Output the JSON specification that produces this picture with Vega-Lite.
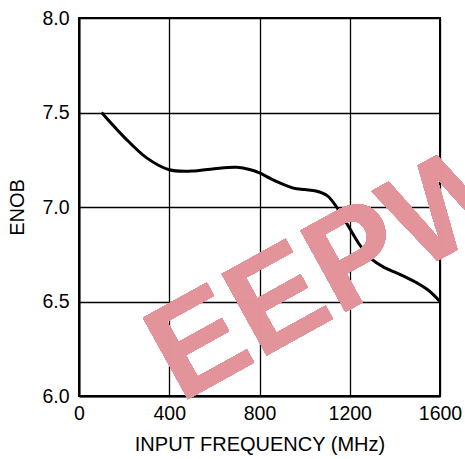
{
  "$schema": "https://vega.github.io/schema/vega-lite/v6.json",
  "width": 361,
  "height": 378,
  "autosize": "none",
  "padding": {"left": 79, "top": 18, "right": 25, "bottom": 63},
  "background": "white",
  "config": {
    "view": {"stroke": "black", "strokeWidth": 2},
    "font": "Liberation Sans",
    "axis": {
      "gridColor": "black",
      "gridWidth": 1.3,
      "gridOpacity": 1,
      "domainColor": "black",
      "domainWidth": 2,
      "ticks": false,
      "labelFont": "Liberation Sans",
      "labelFontSize": 19.5,
      "labelColor": "black",
      "titleFont": "Liberation Sans",
      "titleFontSize": 20,
      "titleFontWeight": "normal",
      "titleColor": "black"
    }
  },
  "data": {
    "values": [
      {"freq": 100, "enob": 7.50},
      {"freq": 200, "enob": 7.37},
      {"freq": 300, "enob": 7.26},
      {"freq": 400, "enob": 7.197},
      {"freq": 500, "enob": 7.19},
      {"freq": 600, "enob": 7.203},
      {"freq": 700, "enob": 7.21},
      {"freq": 760, "enob": 7.197},
      {"freq": 800, "enob": 7.18},
      {"freq": 850, "enob": 7.15},
      {"freq": 900, "enob": 7.122},
      {"freq": 950, "enob": 7.10},
      {"freq": 1000, "enob": 7.092},
      {"freq": 1050, "enob": 7.085},
      {"freq": 1100, "enob": 7.06},
      {"freq": 1150, "enob": 6.985},
      {"freq": 1200, "enob": 6.886},
      {"freq": 1250, "enob": 6.79},
      {"freq": 1300, "enob": 6.722},
      {"freq": 1350, "enob": 6.682},
      {"freq": 1400, "enob": 6.655},
      {"freq": 1450, "enob": 6.628},
      {"freq": 1500, "enob": 6.597},
      {"freq": 1550, "enob": 6.558},
      {"freq": 1600, "enob": 6.50}
    ]
  },
  "layer": [
    {
      "mark": {"type": "line", "color": "black", "strokeWidth": 3, "interpolate": "catmull-rom"},
      "encoding": {
        "x": {
          "field": "freq", "type": "quantitative",
          "scale": {"domain": [0, 1600], "nice": false},
          "axis": {"values": [0, 400, 800, 1200, 1600], "format": "d", "title": "INPUT FREQUENCY (MHz)", "labelPadding": 8, "titlePadding": 12, "labelFlush": false}
        },
        "y": {
          "field": "enob", "type": "quantitative",
          "scale": {"domain": [6, 8], "nice": false, "zero": false},
          "axis": {"values": [6, 6.5, 7, 7.5, 8], "format": ".1f", "title": "ENOB", "labelPadding": 10, "titlePadding": 14, "labelFlush": false}
        }
      }
    },
    {
      "mark": {"type": "text", "text": "EEPW", "angle": -29, "fontSize": 135, "fontWeight": "bold", "font": "Liberation Sans", "color": "#e3939a", "opacity": 0.85, "align": "center", "baseline": "middle", "clip": false},
      "encoding": {
        "x": {"datum": 1130},
        "y": {"datum": 6.66}
      }
    }
  ]
}
